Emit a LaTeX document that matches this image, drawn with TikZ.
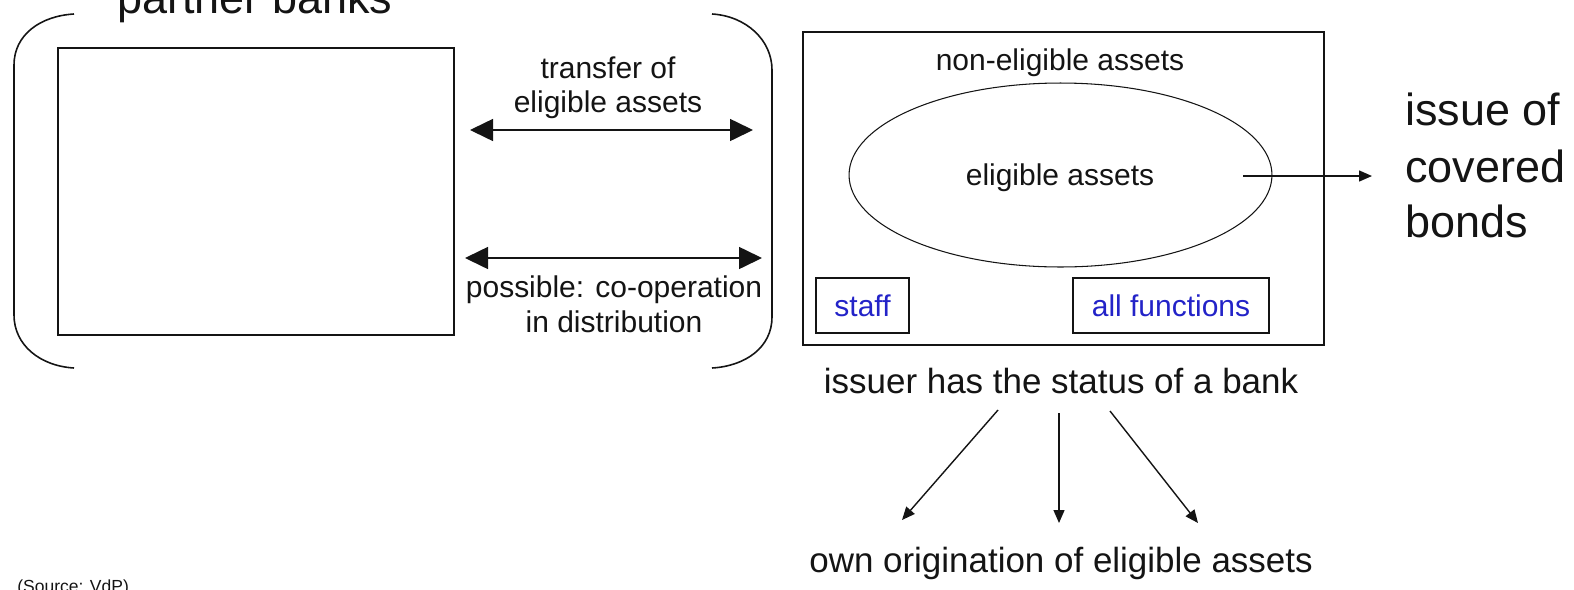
\documentclass[tikz,border=0pt]{standalone}
\usepackage{fontspec}
\setmainfont{Liberation Sans}
\usetikzlibrary{arrows.meta,shapes.geometric}
\definecolor{fnblue}{RGB}{35,35,200}
\definecolor{ink}{RGB}{20,20,20}
\begin{document}
\begin{tikzpicture}[x=0.02cm,y=-0.02cm,
  mid/.style={font=\fontsize{17.07}{20}\selectfont, anchor=base, inner sep=0pt, text=ink},
  big/.style={font=\fontsize{25.6}{30}\selectfont, anchor=base west, inner sep=0pt, text=ink},
  low/.style={font=\fontsize{19.9}{24}\selectfont, anchor=base, inner sep=0pt, text=ink},
  frame/.style={draw=ink, line width=1.1pt, inner sep=0pt},
  smallbox/.style={draw=ink, line width=0.85pt, inner sep=0pt, text=fnblue, font=\fontsize{17.07}{20}\selectfont},
  dbl/.style={draw=ink, line width=0.9pt, {Triangle[length=0.46cm,width=0.44cm]}-{Triangle[length=0.46cm,width=0.44cm]}},
  sarr/.style={draw=ink, line width=0.8pt, -{Triangle[length=0.26cm,width=0.22cm]}},
  brace/.style={draw=ink, line width=0.9pt}]
\useasboundingbox (0,0) rectangle (1574,589);
\clip (0,0) rectangle (1574,589);

% left part
\node[big] (pb) at (117,13) {partner banks};
\node[frame, minimum width=7.92cm, minimum height=5.74cm] (lbox) at (256,191.5) {};
\draw[brace] (74,14) .. controls (40,16) and (14,35) .. (14,65) -- (14,315) .. controls (14,345) and (40,366) .. (74,368);
\draw[brace] (712,14) .. controls (746,16) and (772,40) .. (772,70) -- (772,317) .. controls (772,347) and (746,366) .. (712,368);

\node[mid] (tr1) at (608,78) {transfer of};
\node[mid] (tr2) at (608,112) {eligible assets};
\node[mid] (po1) at (614,297) {possible: co-operation};
\node[mid] (po2) at (614,332) {in distribution};
\coordinate (t1L) at (470,130);
\coordinate (t1R) at (753,130);
\coordinate (t2L) at (465,258);
\coordinate (t2R) at (762,258);
\draw[dbl] (t1L) -- (t1R);
\draw[dbl] (t2L) -- (t2R);

% right part
\node[frame, minimum width=10.42cm, minimum height=6.26cm] (rbox) at (1063.5,188.5) {};
\node[mid] (ne) at (1060,70) {non-eligible assets};
\node[ellipse, draw=ink, line width=0.6pt, minimum width=8.46cm, minimum height=3.68cm, inner sep=0pt] (ell) at (1060.5,175) {};
\node[mid] (el) at (1060,185) {eligible assets};
\node[smallbox, minimum width=1.86cm, minimum height=1.1cm] (staff) at (862.5,305.5) {staff};
\node[smallbox, minimum width=3.92cm, minimum height=1.1cm] (allf) at (1171,305.5) {all functions};

\coordinate (ea) at (1243,176);
\coordinate (ib) at (1372,176);
\draw[sarr] (ea) -- (ib);
\node[big] (is1) at (1405,125) {issue of};
\node[big] (is2) at (1405,182) {covered};
\node[big] (is3) at (1405,237) {bonds};

\node[low] (iss) at (1061,393) {issuer has the status of a bank};
\node[low] (own) at (1061,572) {own origination of eligible assets};
\coordinate (s1) at (998,410);
\coordinate (e1) at (902,520);
\coordinate (s2) at (1059,413);
\coordinate (e2) at (1059,523);
\coordinate (s3) at (1110,411);
\coordinate (e3) at (1198,523);
\draw[sarr] (s1) -- (e1);
\draw[sarr] (s2) -- (e2);
\draw[sarr] (s3) -- (e3);

\node[font=\fontsize{9.96}{12}\selectfont, anchor=base west, inner sep=0pt, text=ink] (src) at (17,592.5) {(Source: VdP)};
\end{tikzpicture}
\end{document}
